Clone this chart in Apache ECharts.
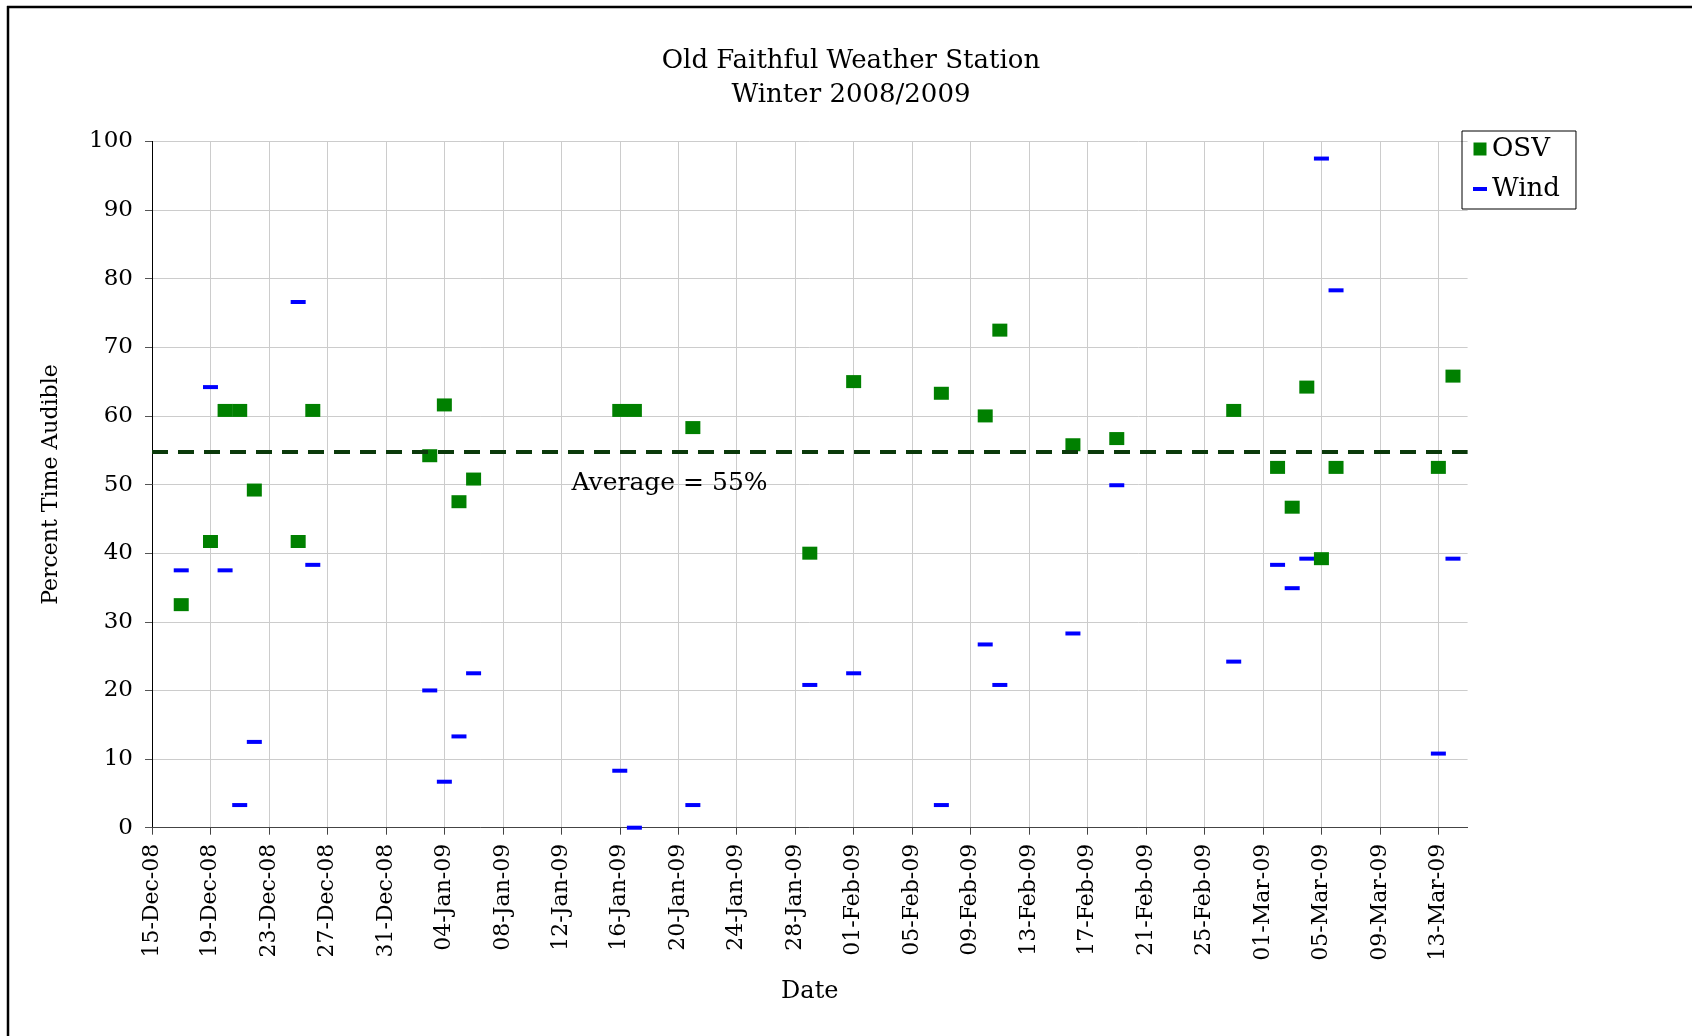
<!DOCTYPE html>
<html>
<head>
<meta charset="utf-8">
<script src="https://cdn.jsdelivr.net/npm/echarts@6/dist/echarts.min.js"></script>
<style>
html,body{margin:0;padding:0;background:#fff;}
#chart{width:1692px;height:1036px;}
</style>
</head>
<body>
<div id="chart"></div>
<script>
// ---- data ----
var dates = ['2008-12-17','2008-12-19','2008-12-20','2008-12-21','2008-12-22','2008-12-25','2008-12-26',
  '2009-01-03','2009-01-04','2009-01-05','2009-01-06','2009-01-16','2009-01-17','2009-01-21','2009-01-29',
  '2009-02-01','2009-02-07','2009-02-10','2009-02-11','2009-02-16','2009-02-19','2009-02-27',
  '2009-03-02','2009-03-03','2009-03-04','2009-03-05','2009-03-06','2009-03-13','2009-03-14'];
var osvValues = [32.5,41.7,60.8,60.8,49.2,41.7,60.8,
  54.2,61.6,47.5,50.8,60.8,60.8,58.3,40.0,
  65.0,63.3,60.0,72.5,55.8,56.7,60.8,
  52.5,46.7,64.2,39.2,52.5,52.5,65.8];
var windValues = [37.5,64.2,37.5,3.3,12.5,76.6,38.3,
  20.0,6.7,13.3,22.5,8.3,0.0,3.3,20.8,
  22.5,3.3,26.7,20.8,28.3,49.9,24.2,
  38.3,34.9,39.2,97.5,78.3,10.8,39.2];
var xTickLabels = ['15-Dec-08','19-Dec-08','23-Dec-08','27-Dec-08','31-Dec-08','04-Jan-09','08-Jan-09',
  '12-Jan-09','16-Jan-09','20-Jan-09','24-Jan-09','28-Jan-09','01-Feb-09','05-Feb-09','09-Feb-09',
  '13-Feb-09','17-Feb-09','21-Feb-09','25-Feb-09','01-Mar-09','05-Mar-09','09-Mar-09','13-Mar-09'];
var yTickLabels = ['0','10','20','30','40','50','60','70','80','90','100'];

// ---- build ----
var baseDay = Date.UTC(2008, 11, 15);
function dayOf(s){ var p = s.split('-'); return (Date.UTC(+p[0], +p[1]-1, +p[2]) - baseDay) / 86400000; }
var osvData = dates.map(function(d,i){ return [dayOf(d), osvValues[i]]; });
var windData = dates.map(function(d,i){ return [dayOf(d), windValues[i]]; });
var mean = osvValues.reduce(function(a,b){return a+b;},0) / osvValues.length;
var tickDays = xTickLabels.map(function(_,i){ return i*4; });

var FONT = "'DejaVu Serif', serif";
var chart = echarts.init(document.getElementById('chart'), null, {renderer:'canvas'});
chart.setOption({
  backgroundColor: '#ffffff',
  animation: false,
  title: {
    text: 'Old Faithful Weather Station\nWinter 2008/2009',
    left: 846, top: 39, textAlign: 'center',
    textStyle: {fontFamily: FONT, fontSize: 26, fontWeight: 'normal', color: '#000', lineHeight: 34}
  },
  legend: {
    orient: 'vertical', left: 1462, top: 131,
    padding: [4, 16, 6, 11], itemGap: 12, itemWidth: 14, itemHeight: 13,
    borderColor: '#000', borderWidth: 1,
    textStyle: {fontFamily: FONT, fontSize: 26, color: '#000', lineHeight: 28},
    data: [
      {name: 'OSV', icon: 'path://M0,0L13,0L13,13L0,13Z'},
      {name: 'Wind', icon: 'path://M0,0L0,0.01 M0,4.5L14,4.5L14,8.5L0,8.5Z M14,12.99L14,13'}
    ]
  },
  grid: {left: 152, top: 141.4, right: 224.4, bottom: 208.3, containLabel: false},
  xAxis: {
    type: 'value', min: 0, max: 90, interval: 4,
    name: 'Date', nameLocation: 'middle', nameGap: 152,
    nameTextStyle: {fontFamily: FONT, fontSize: 24, color: '#000'},
    axisLine: {show: true, lineStyle: {color: '#444', width: 1}},
    axisTick: {show: true, length: 7, lineStyle: {color: '#444'}, customValues: tickDays},
    axisLabel: {
      rotate: 90, margin: 16, fontFamily: FONT, fontSize: 22, color: '#000',
      customValues: tickDays,
      formatter: function(v){ return (v % 4 === 0) ? (xTickLabels[v/4] || '') : ''; }
    },
    splitLine: {show: true, lineStyle: {color: '#cccccc', width: 1}}
  },
  yAxis: {
    type: 'value', min: 0, max: 100, interval: 10,
    name: 'Percent Time Audible', nameLocation: 'middle', nameGap: 90,
    nameTextStyle: {fontFamily: FONT, fontSize: 22, color: '#000'},
    axisLine: {show: true, lineStyle: {color: '#000', width: 1}},
    axisTick: {show: true, length: 7, lineStyle: {color: '#555'}},
    axisLabel: {margin: 19, fontFamily: FONT, fontSize: 23, color: '#000',
      formatter: function(v){ return yTickLabels[Math.round(v/10)]; }},
    splitLine: {show: true, lineStyle: {color: '#cccccc', width: 1}}
  },
  series: [
    {
      name: 'Wind', type: 'scatter', data: windData,
      symbol: 'rect', symbolSize: [15, 4],
      itemStyle: {color: '#0000ff', opacity: 1}, z: 2
    },
    {
      name: 'OSV', type: 'scatter', data: osvData,
      symbol: 'rect', symbolSize: [15, 13],
      itemStyle: {color: '#008000', opacity: 1}, z: 3,
      markLine: {
        silent: true, symbol: ['none','none'],
        lineStyle: {color: '#0b3a0b', width: 4, type: [16, 10]},
        label: {show: false},
        data: [{yAxis: mean}]
      },
      markPoint: {
        silent: true, symbol: 'circle', symbolSize: 0,
        label: {show: true, position: 'right', distance: 0,
          fontFamily: FONT, fontSize: 25, color: '#000',
          formatter: 'Average = ' + Math.round(mean) + '%'},
        data: [{coord: [28.7, 50.2]}]
      }
    }
  ],
  graphic: [
    {type: 'line', shape: {x1: 7, y1: 7, x2: 1692, y2: 7}, style: {stroke: '#000', lineWidth: 2.5}},
    {type: 'line', shape: {x1: 8, y1: 6, x2: 8, y2: 1036}, style: {stroke: '#000', lineWidth: 2.5}}
  ]
});
</script>
</body>
</html>
